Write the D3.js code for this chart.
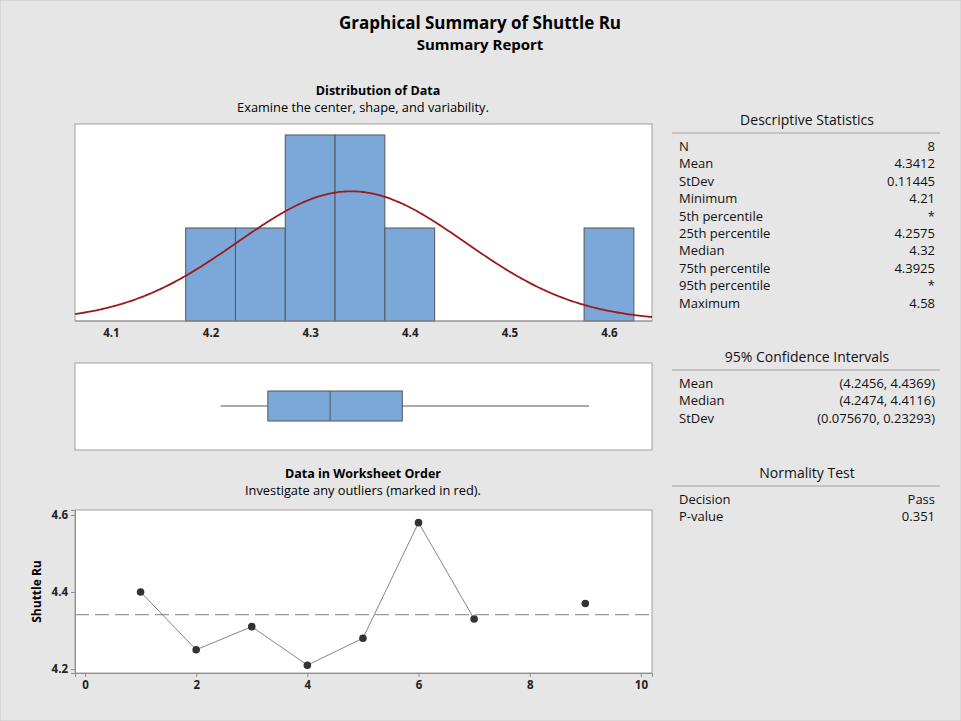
<!DOCTYPE html>
<html>
<head>
<meta charset="utf-8">
<script src="https://cdn.jsdelivr.net/npm/d3@7"></script>
<style>
  body { margin: 0; background: #e6e6e6; }
  svg { display: block; font-family: "Open Sans", "Noto Sans", sans-serif; }
</style>
</head>
<body>
<div id="chart"></div>
<script>
// worksheet order values (row 8 is missing)
const rows = [1, 2, 3, 4, 5, 6, 7, 8, 9];
const values = [4.40, 4.25, 4.31, 4.21, 4.28, 4.58, 4.33, null, 4.37];

const histTicks = [4.1, 4.2, 4.3, 4.4, 4.5, 4.6];
const binEdges = [4.175, 4.225, 4.275, 4.325, 4.375, 4.425, 4.475, 4.525, 4.575, 4.625];
const orderXTicks = [0, 2, 4, 6, 8, 10];
const orderYTicks = [4.2, 4.4, 4.6];

const mean = 4.3412;
const stdev = 0.11445;
// min, q1, median, q3, max
const boxStats = [4.21, 4.2575, 4.32, 4.3925, 4.58];

const descLabels = ["N", "Mean", "StDev", "Minimum", "5th percentile", "25th percentile",
  "Median", "75th percentile", "95th percentile", "Maximum"];
const descValues = ["8", "4.3412", "0.11445", "4.21", "*", "4.2575", "4.32", "4.3925", "*", "4.58"];
const ciLabels = ["Mean", "Median", "StDev"];
const ciValues = ["(4.2456, 4.4369)", "(4.2474, 4.4116)", "(0.075670, 0.23293)"];
const normLabels = ["Decision", "P-value"];
const normValues = ["Pass", "0.351"];

const width = 961, height = 721;
const svg = d3.select("#chart").append("svg")
  .attr("width", width).attr("height", height);

svg.append("rect").attr("width", width).attr("height", height)
  .attr("fill", "#e6e6e6").attr("stroke", "#c8c8c8");

// titles
svg.append("text").attr("x", 480).attr("y", 29).attr("text-anchor", "middle")
  .attr("font-size", 17).attr("font-weight", "bold").text("Graphical Summary of Shuttle Ru");
svg.append("text").attr("x", 480).attr("y", 50).attr("text-anchor", "middle")
  .attr("font-size", 15).attr("font-weight", "bold").text("Summary Report");

const left = 75, right = 652;
const barFill = "#7ba7d9", edge = "#555";

// ---- histogram ----
const hTop = 124, hBottom = 321;
svg.append("text").attr("x", 378).attr("y", 95).attr("text-anchor", "middle")
  .attr("font-size", 12.5).attr("font-weight", "bold").text("Distribution of Data");
svg.append("text").attr("x", 363).attr("y", 112).attr("text-anchor", "middle")
  .attr("font-size", 12.8).text("Examine the center, shape, and variability.");

const x = d3.scaleLinear().domain([4.0639, 4.6432]).range([left, right]);
const bins = d3.bin().domain([binEdges[0], binEdges[binEdges.length - 1]])
  .thresholds(binEdges.slice(1, -1))(values.filter(v => v != null));
const yH = d3.scaleLinear().domain([0, 2.118]).range([hBottom, hTop]);

svg.append("rect").attr("x", left).attr("y", hTop).attr("width", right - left)
  .attr("height", hBottom - hTop).attr("fill", "#fff").attr("stroke", "#a0a0a0");

svg.selectAll(".bar").data(bins.filter(b => b.length > 0)).enter().append("rect")
  .attr("class", "bar")
  .attr("x", d => x(d.x0)).attr("y", d => yH(d.length))
  .attr("width", d => x(d.x1) - x(d.x0)).attr("height", d => hBottom - yH(d.length))
  .attr("fill", barFill).attr("stroke", edge).attr("stroke-width", 1);

const n = values.filter(v => v != null).length;
const bw = 0.05;
const curveX = d3.range(400).map(i => x.domain()[0] + i * (x.domain()[1] - x.domain()[0]) / 399);
const pdf = v => Math.exp(-0.5 * ((v - mean) / stdev) ** 2) / (stdev * Math.sqrt(2 * Math.PI));
svg.append("path").datum(curveX)
  .attr("d", d3.line().x(d => x(d)).y(d => yH(n * bw * pdf(d))))
  .attr("fill", "none").attr("stroke", "#9b1b1b").attr("stroke-width", 1.8);

svg.append("line").attr("x1", left).attr("x2", right).attr("y1", hBottom).attr("y2", hBottom)
  .attr("stroke", "#909090");

const hAxis = svg.append("g").attr("transform", `translate(0,${hBottom})`)
  .call(d3.axisBottom(x).tickValues(histTicks).tickSize(0).tickPadding(8).tickFormat(d3.format(".1f")));
hAxis.select(".domain").remove();

// ---- boxplot ----
const bTop = 363, bBottom = 450, bMid = 406;
svg.append("rect").attr("x", left).attr("y", bTop).attr("width", right - left)
  .attr("height", bBottom - bTop).attr("fill", "#fff").attr("stroke", "#a0a0a0");
const [bMin, bQ1, bMed, bQ3, bMax] = boxStats;
svg.append("line").attr("x1", x(bMin)).attr("x2", x(bQ1)).attr("y1", bMid).attr("y2", bMid)
  .attr("stroke", edge);
svg.append("line").attr("x1", x(bQ3)).attr("x2", x(bMax)).attr("y1", bMid).attr("y2", bMid)
  .attr("stroke", edge);
svg.append("rect").attr("x", x(bQ1)).attr("y", 391).attr("width", x(bQ3) - x(bQ1))
  .attr("height", 30).attr("fill", barFill).attr("stroke", edge);
svg.append("line").attr("x1", x(bMed)).attr("x2", x(bMed)).attr("y1", 391).attr("y2", 421)
  .attr("stroke", edge);

// ---- worksheet order ----
const oTop = 510, oBottom = 673;
svg.append("text").attr("x", 363).attr("y", 478).attr("text-anchor", "middle")
  .attr("font-size", 12.5).attr("font-weight", "bold").text("Data in Worksheet Order");
svg.append("text").attr("x", 363).attr("y", 495).attr("text-anchor", "middle")
  .attr("font-size", 12.8).text("Investigate any outliers (marked in red).");

const xO = d3.scaleLinear().domain([-0.18, 10.2]).range([left, right]);
const yO = d3.scaleLinear().domain([4.1897, 4.6128]).range([oBottom, oTop]);

svg.append("rect").attr("x", left).attr("y", oTop).attr("width", right - left)
  .attr("height", oBottom - oTop).attr("fill", "#fff").attr("stroke", "#a0a0a0");

svg.append("line").attr("x1", left).attr("x2", right).attr("y1", yO(mean)).attr("y2", yO(mean))
  .attr("stroke", "#999").attr("stroke-width", 1.2).attr("stroke-dasharray", "14,6");

const pts = rows.map((r, i) => ({ r, v: values[i] }));
svg.append("path").datum(pts)
  .attr("d", d3.line().defined(d => d.v != null).x(d => xO(d.r)).y(d => yO(d.v)))
  .attr("fill", "none").attr("stroke", "#666").attr("stroke-width", 0.8);
svg.selectAll(".pt").data(pts.filter(d => d.v != null)).enter().append("circle")
  .attr("class", "pt").attr("cx", d => xO(d.r)).attr("cy", d => yO(d.v)).attr("r", 3.8)
  .attr("fill", "#333");

const oxAxis = svg.append("g").attr("transform", `translate(0,${oBottom})`)
  .call(d3.axisBottom(xO).tickValues(orderXTicks).tickSize(4).tickPadding(4));
oxAxis.select(".domain").attr("stroke", "#909090");
oxAxis.selectAll(".tick line").attr("stroke", "#909090");
const oyAxis = svg.append("g").attr("transform", `translate(${left},0)`)
  .call(d3.axisLeft(yO).tickValues(orderYTicks).tickSize(4).tickPadding(3).tickFormat(d3.format(".1f")));
oyAxis.select(".domain").attr("stroke", "#909090");
oyAxis.selectAll(".tick line").attr("stroke", "#909090");
svg.selectAll(".tick text").attr("font-size", 11.5).attr("font-weight", "bold").attr("fill", "#222")
  .attr("font-family", "\"Open Sans\", sans-serif");

svg.append("text").attr("transform", `translate(41,${(oTop + oBottom) / 2}) rotate(-90)`)
  .attr("text-anchor", "middle").attr("font-size", 12).attr("font-weight", "bold")
  .text("Shuttle Ru");

// ---- stats tables ----
function table(title, titleY, labels, vals) {
  svg.append("text").attr("x", 807).attr("y", titleY).attr("text-anchor", "middle")
    .attr("font-size", 14).attr("fill", "#111").text(title);
  svg.append("line").attr("x1", 672).attr("x2", 940).attr("y1", titleY + 8).attr("y2", titleY + 8)
    .attr("stroke", "#a0a0a0");
  labels.forEach((l, i) => {
    const yy = titleY + 26 + i * 17.4;
    svg.append("text").attr("x", 679).attr("y", yy).attr("font-size", 13).attr("fill", "#111").text(l);
    svg.append("text").attr("x", 935).attr("y", yy).attr("text-anchor", "end")
      .attr("font-size", 13).attr("fill", "#111").text(vals[i]);
  });
}
table("Descriptive Statistics", 125, descLabels, descValues);
table("95% Confidence Intervals", 362, ciLabels, ciValues);
table("Normality Test", 478, normLabels, normValues);
</script>
</body>
</html>
